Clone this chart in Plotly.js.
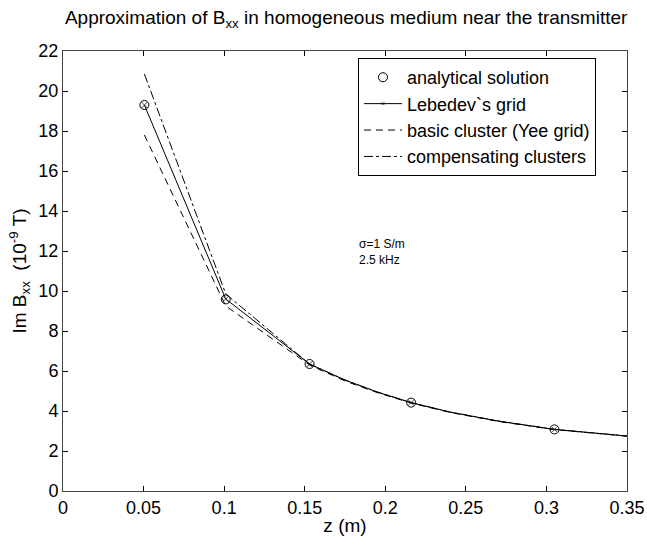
<!DOCTYPE html>
<html>
<head>
<meta charset="utf-8">
<script src="https://cdn.plot.ly/plotly-3.0.1.min.js"></script>
<style>html,body{margin:0;padding:0;background:#fff;}#chart{width:647px;height:538px;}</style>
</head>
<body>
<div id="chart"></div>
<script>
// analytical solution (grid points)
const zAnalytic = [0.0505, 0.101, 0.153, 0.216, 0.305];
const bAnalytic = [19.3, 9.58, 6.35, 4.42, 3.08];

// curves
const zCurve = [0.0505, 0.101, 0.153, 0.175, 0.195, 0.216, 0.24, 0.27, 0.305, 0.33, 0.35];
const bLebedev = [19.3, 9.6, 6.35, 5.55, 4.95, 4.42, 3.95, 3.5, 3.08, 2.9, 2.75];
const bBasic = [17.8, 9.25, 6.3, 5.5, 4.92, 4.4, 3.93, 3.48, 3.07, 2.89, 2.74];
const bComp = [20.85, 9.85, 6.35, 5.55, 4.95, 4.42, 3.95, 3.5, 3.08, 2.9, 2.75];

const xTicks = [0, 0.05, 0.1, 0.15, 0.2, 0.25, 0.3, 0.35];
const xTickLabels = ['0', '0.05', '0.1', '0.15', '0.2', '0.25', '0.3', '0.35'];
const yTicks = [0, 2, 4, 6, 8, 10, 12, 14, 16, 18, 20, 22];

const noteText = 'σ=1 S/m<br>2.5 kHz';

const FONT = 'Liberation Sans, Arial, sans-serif';

// marker sizes for Lebedev: markers only at grid points
const lebSizes = zCurve.map(z => zAnalytic.some(a => Math.abs(a - z) < 1e-9) ? 6 : 0);

const traces = [
  {
    x: zAnalytic, y: bAnalytic, mode: 'markers', name: 'analytical solution',
    marker: {symbol: 'circle-open', size: 9, color: '#000', line: {width: 1, color: '#000'}}
  },
  {
    x: zCurve, y: bLebedev, mode: 'lines+markers', name: 'Lebedev`s grid',
    line: {color: '#000', width: 1},
    marker: {symbol: 'x-thin', size: lebSizes, color: '#000', line: {width: 1, color: '#000'}}
  },
  {
    x: zCurve, y: bBasic, mode: 'lines', name: 'basic cluster (Yee grid)',
    line: {color: '#000', width: 1, dash: '7px,5px'}
  },
  {
    x: zCurve, y: bComp, mode: 'lines', name: 'compensating clusters',
    line: {color: '#000', width: 1, dash: 'dashdot'}
  }
];

const layout = {
  width: 647, height: 538,
  margin: {l: 63, r: 20, t: 51, b: 47},
  paper_bgcolor: '#fff', plot_bgcolor: '#fff',
  font: {family: FONT, size: 18, color: '#000'},
  title: {
    text: 'Approximation of B<sub>xx</sub> in homogeneous medium near the transmitter',
    font: {family: FONT, size: 19, color: '#000'},
    x: 0.535, xanchor: 'center', xref: 'container',
    y: 0.968, yanchor: 'middle', yref: 'container'
  },
  xaxis: {
    range: [0, 0.35], tickvals: xTicks, ticktext: xTickLabels,
    ticks: 'inside', ticklen: 5, tickcolor: '#000', mirror: 'ticks',
    showline: true, linecolor: '#444', linewidth: 1, showgrid: false, zeroline: false,
    tickfont: {family: FONT, size: 18, color: '#000'},
    title: {text: 'z (m)', font: {family: FONT, size: 19, color: '#000'}, standoff: 2}
  },
  yaxis: {
    range: [0, 22], tickvals: yTicks,
    ticks: 'inside', ticklen: 5, tickcolor: '#000', mirror: 'ticks',
    showline: true, linecolor: '#444', linewidth: 1, showgrid: false, zeroline: false,
    tickfont: {family: FONT, size: 18, color: '#000'},
    title: {text: 'Im B<sub>xx</sub>  (10<sup>-9</sup> T)', font: {family: FONT, size: 19, color: '#000'}, standoff: 6}
  },
  legend: {
    x: 0.523, y: 0.984, xanchor: 'left', yanchor: 'top',
    bgcolor: '#fff', bordercolor: '#000', borderwidth: 1,
    font: {family: FONT, size: 18, color: '#000'},
    tracegroupgap: 0, itemwidth: 38
  },
  annotations: [{
    x: 0.1825, y: 11.95, xref: 'x', yref: 'y', xanchor: 'left', yanchor: 'middle',
    text: noteText, showarrow: false, align: 'left',
    font: {family: FONT, size: 12, color: '#000'}
  }],
  showlegend: true
};

Plotly.newPlot('chart', traces, layout, {displayModeBar: false, staticPlot: true});
</script>
</body>
</html>
